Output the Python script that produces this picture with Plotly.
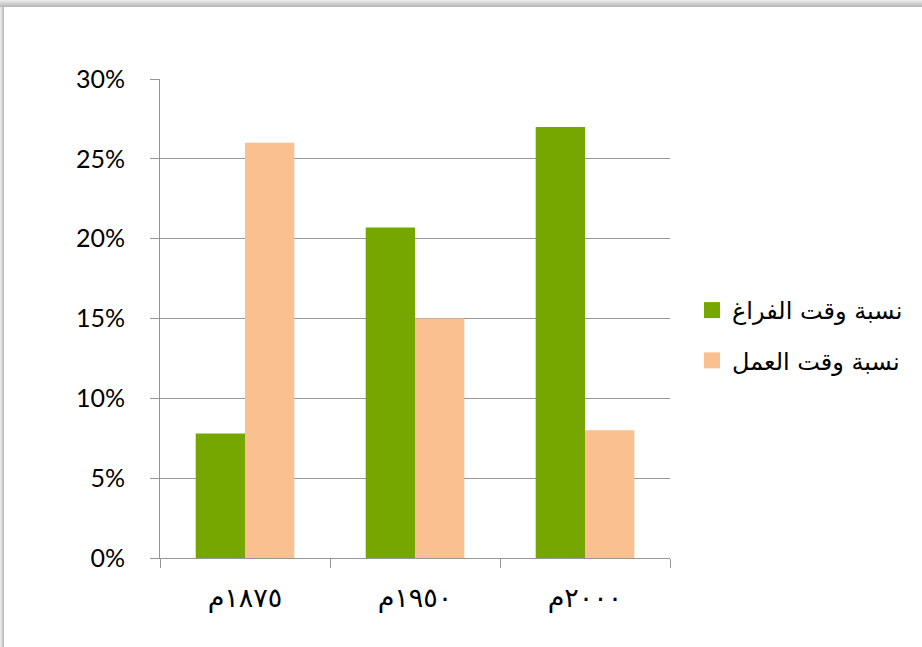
import plotly.graph_objects as go

categories = ["١٨٧٥م", "١٩٥٠م", "٢٠٠٠م"]
leisure = [7.8, 20.7, 27.0]
work = [26.0, 15.0, 8.0]
series_names = ["نسبة وقت الفراغ", "نسبة وقت العمل"]
colors = ["#76A700", "#FAC090"]
y_ticks = [0, 5, 10, 15, 20, 25, 30]
y_tick_text = ["%d%%" % v for v in y_ticks]

W, H = 922, 647
L, R, T, B = 160, 252, 79, 89
pw, ph = W - L - R, H - T - B

fig = go.Figure()
for vals, name, col in zip([leisure, work], series_names, colors):
    fig.add_trace(go.Bar(x=categories, y=vals, name=name, showlegend=False,
                         marker=dict(color=col, line=dict(width=0))))
for i, (name, col) in enumerate(zip(series_names, colors)):
    fig.add_trace(go.Scatter(x=[None], y=[None], mode="markers", name=name,
                             legendgroup="g%d" % i,
                             marker=dict(symbol="square", size=16, color=col)))

def px2x(px):
    return (px - L) / pw

def py2y(py):
    return (H - B - py) / ph

shapes = []
for i in range(7):
    op = 0.12 + 0.28 * (i / 6)
    shapes.append(dict(type="rect", xref="paper", yref="paper",
                       x0=px2x(0), x1=px2x(W), y0=py2y(i + 1), y1=py2y(i),
                       fillcolor="rgba(80,80,80,%.3f)" % op, line=dict(width=0), layer="below"))
for i in range(4):
    op = 0.12 + 0.25 * (i / 3)
    shapes.append(dict(type="rect", xref="paper", yref="paper",
                       x0=px2x(i), x1=px2x(i + 1), y0=py2y(H), y1=py2y(7),
                       fillcolor="rgba(80,80,80,%.3f)" % op, line=dict(width=0), layer="below"))

fig.update_layout(
    width=W, height=H,
    margin=dict(l=L, r=R, t=T, b=B, autoexpand=False),
    paper_bgcolor="white", plot_bgcolor="white",
    barmode="group", bargap=0.42, bargroupgap=0,
    shapes=shapes,
    showlegend=True,
    legend=dict(x=px2x(692), y=py2y(288), xanchor="left", yanchor="top",
                font=dict(family="DejaVu Sans", size=24, color="black"),
                tracegroupgap=16, itemsizing="trace", bgcolor="rgba(0,0,0,0)",
                traceorder="grouped", itemwidth=30),
    xaxis=dict(showline=True, linecolor="#969696", linewidth=1,
               ticks="outside", tickson="boundaries", ticklen=9, tickcolor="#969696",
               tickfont=dict(family="DejaVu Sans", size=27, color="black"),
               ticklabelstandoff=16, showgrid=False),
    yaxis=dict(range=[0, 30], tickmode="array", tickvals=y_ticks, ticktext=y_tick_text,
               showline=True, linecolor="#969696", linewidth=1,
               ticks="outside", ticklen=9, tickcolor="#969696",
               gridcolor="#969696", gridwidth=1, zeroline=False,
               ticklabelstandoff=20,
               tickfont=dict(family="Lato", size=25, color="black")),
    font=dict(family="DejaVu Sans"),
)
fig.write_html("out.html", config={"displayModeBar": False},
               post_script="document.body.style.margin='0';document.body.style.padding='0';")
